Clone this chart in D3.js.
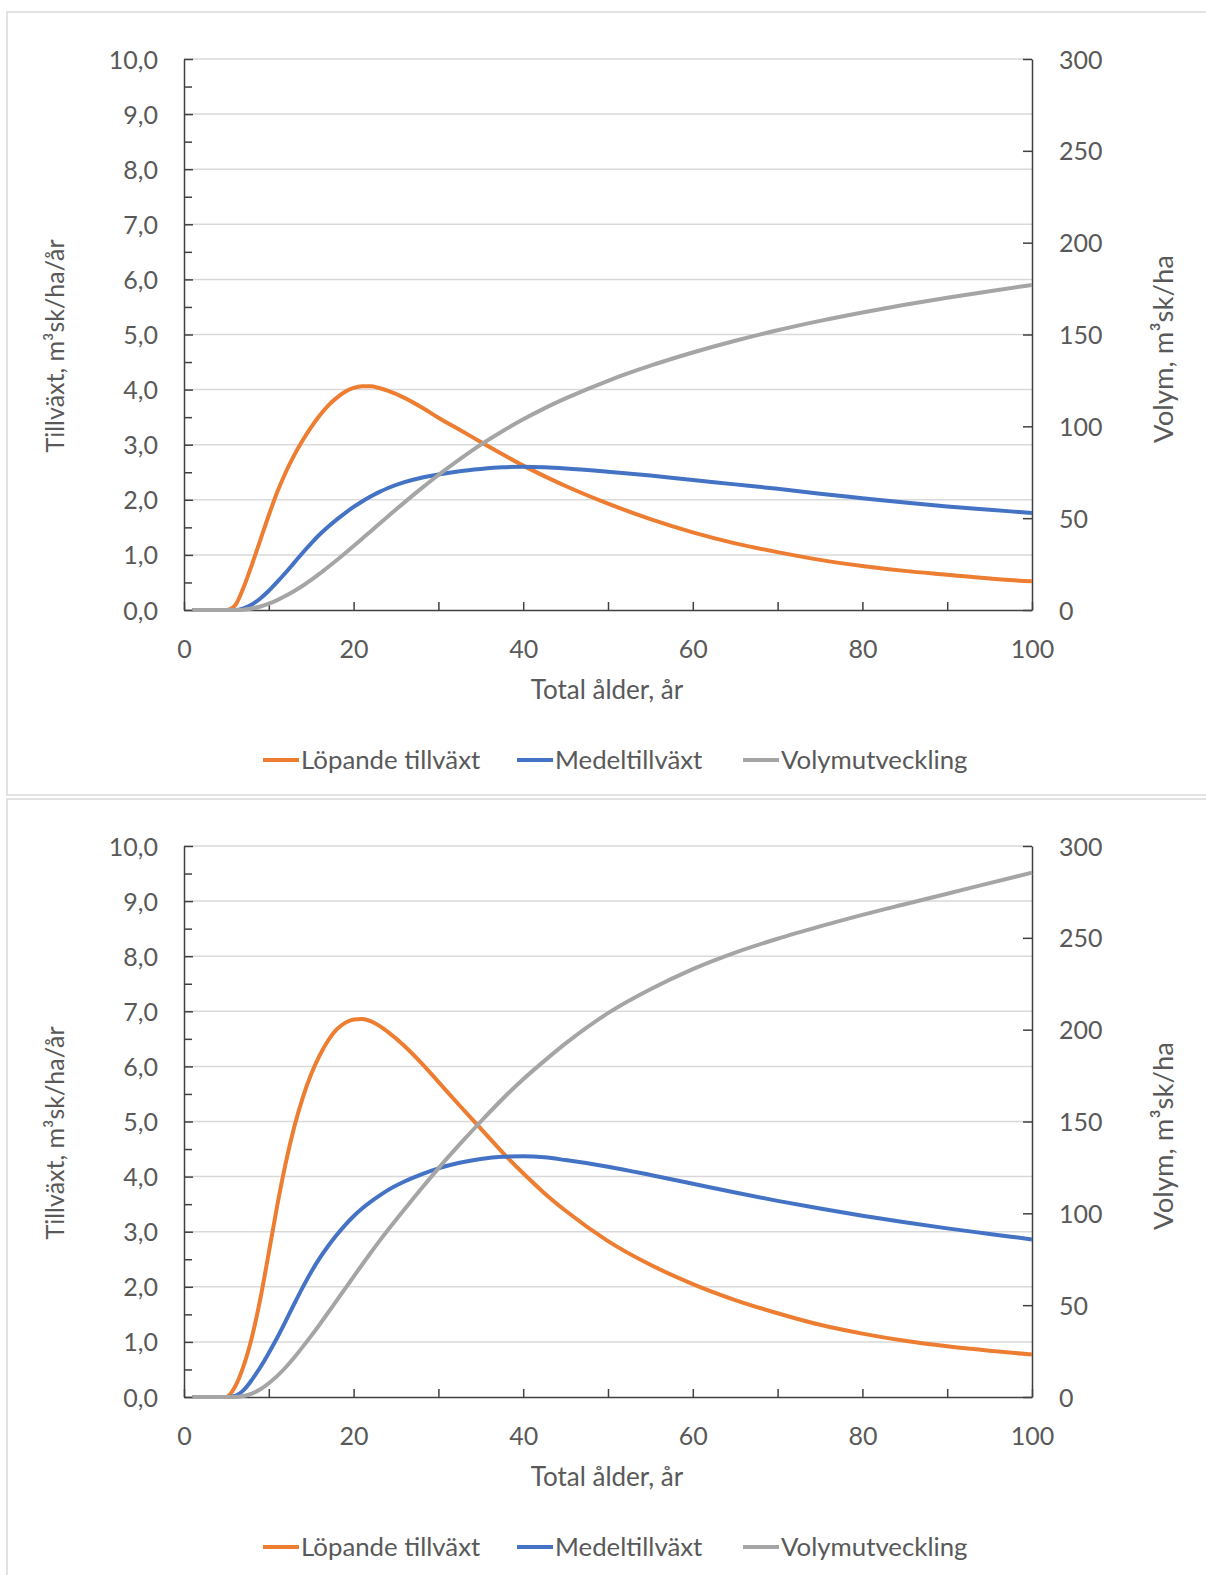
<!DOCTYPE html>
<html>
<head>
<meta charset="utf-8">
<script src="https://cdn.jsdelivr.net/npm/d3@7"></script>
<style>
  body { margin: 0; background: #fff; }
  text { font-family: Lato, "Open Sans", sans-serif; fill: #595959; }
</style>
</head>
<body>
<svg id="chart" width="1206" height="1575"></svg>
<script>
// ages (år) the curves were read at
const ages = [1, 2, 3, 4, 5, 6, 7, 8, 9, 10, 11, 12, 13, 14, 15, 16, 17, 18, 19, 20, 21, 22, 23, 24,
    26, 28, 30, 32.5, 35, 37.5, 40, 42.5, 45, 50, 55, 60, 65, 70, 75, 80, 85, 90, 95, 100];

// top chart
const lopandeTop = [0, 0, 0, 0, 0, 0.08, 0.4, 0.82, 1.27, 1.72, 2.14, 2.5, 2.81, 3.08, 3.32, 3.53, 3.71, 3.85, 3.96, 4.03, 4.06, 4.06, 4.03, 3.98,
    3.85, 3.68, 3.49, 3.27, 3.05, 2.83, 2.62, 2.43, 2.25, 1.93, 1.65, 1.41, 1.21, 1.05, 0.91, 0.8, 0.71, 0.64, 0.57, 0.52];
const medelTop = [0, 0, 0, 0, 0, 0, 0.03, 0.1, 0.21, 0.35, 0.51, 0.68, 0.86, 1.04, 1.21, 1.37, 1.51, 1.64, 1.76, 1.87, 1.97, 2.06, 2.14, 2.21,
    2.32, 2.4, 2.46, 2.52, 2.56, 2.59, 2.6, 2.59, 2.57, 2.51, 2.44, 2.36, 2.28, 2.2, 2.11, 2.03, 1.95, 1.88, 1.82, 1.76];
const volymTop = [0, 0, 0, 0, 0, 0, 0.2, 0.8, 1.9, 3.5, 5.4, 7.7, 10.3, 13.2, 16.4, 19.8, 23.4, 27.1, 30.9, 34.8, 38.8, 42.8, 46.8, 50.8,
    58.6, 66.2, 73.5, 82, 90, 97.2, 103.8, 109.8, 115.2, 124.8, 133, 140.2, 146.6, 152.3, 157.4, 162, 166.2, 170, 173.6, 177];

// bottom chart
const lopandeBottom = [0, 0, 0, 0, 0, 0.18, 0.55, 1.08, 1.78, 2.62, 3.48, 4.25, 4.9, 5.43, 5.86, 6.2, 6.47, 6.67, 6.79, 6.85, 6.86, 6.82, 6.74, 6.63,
    6.37, 6.06, 5.72, 5.29, 4.87, 4.45, 4.06, 3.7, 3.38, 2.83, 2.4, 2.05, 1.76, 1.52, 1.31, 1.15, 1.02, 0.92, 0.84, 0.77];
const medelBottom = [0, 0, 0, 0, 0, 0.02, 0.12, 0.31, 0.54, 0.8, 1.08, 1.38, 1.69, 1.99, 2.27, 2.52, 2.74, 2.94, 3.12, 3.28, 3.42, 3.54, 3.65, 3.75,
    3.91, 4.04, 4.15, 4.25, 4.32, 4.36, 4.37, 4.35, 4.3, 4.18, 4.03, 3.87, 3.71, 3.56, 3.42, 3.29, 3.17, 3.06, 2.96, 2.86];
const volymBottom = [0, 0, 0, 0, 0, 0, 0.5, 1.8, 4.2, 7.5, 11.5, 16.2, 21.5, 27.3, 33.3, 39.5, 46, 52.5, 59, 65.5, 72, 78.4, 84.6, 90.6,
    102.2, 113.5, 124.5, 137.5, 150, 162, 173, 183, 192.5, 209, 222, 233, 242, 249.5, 256.2, 262.5, 268.3, 274, 279.8, 285.5];

const leftTicks = [0, 1, 2, 3, 4, 5, 6, 7, 8, 9, 10];
const rightTicks = [0, 50, 100, 150, 200, 250, 300];
const xTicks = [0, 10, 20, 30, 40, 50, 60, 70, 80, 90, 100];
const seriesNames = ["Löpande tillväxt", "Medeltillväxt", "Volymutveckling"];
const seriesColors = ["#ED7D31", "#4472C4", "#A5A5A5"];

const svg = d3.select('#chart');

function growthChart(offsetY, lopande, medel, volym) {

    let margin = { top: 59, left: 184 },
        width = 848,
        height = 551;

    let g = svg.append('g').attr('transform', `translate(0, ${offsetY})`);

    // panel frame
    g.append('rect')
        .attr('x', 7).attr('y', 12)
        .attr('width', 1220).attr('height', 783)
        .attr('fill', 'none')
        .attr('stroke', '#d9d9d9')
        .attr('stroke-width', 1.5);

    let x = d3.scaleLinear().domain([0, 100]).range([margin.left, margin.left + width]);
    let yLeft = d3.scaleLinear().domain([0, 10]).range([margin.top + height, margin.top]);
    let yRight = d3.scaleLinear().domain([0, 300]).range([margin.top + height, margin.top]);

    // gridlines
    g.append('g').selectAll('line')
        .data(leftTicks.slice(1))
        .enter().append('line')
        .attr('x1', margin.left).attr('x2', margin.left + width)
        .attr('y1', d => yLeft(d)).attr('y2', d => yLeft(d))
        .attr('stroke', '#d9d9d9')
        .attr('stroke-width', 1.5);

    // left axis, ticks inside
    let leftAxis = g.append('g')
        .attr('transform', `translate(${margin.left}, 0)`)
        .call(d3.axisLeft(yLeft)
            .tickValues(leftTicks)
            .tickSizeInner(-9).tickSizeOuter(0).tickPadding(26)
            .tickFormat(d => d3.format('.1f')(d).replace('.', ',')));

    // minor ticks
    g.append('g')
        .attr('transform', `translate(${margin.left}, 0)`)
        .call(d3.axisLeft(yLeft)
            .tickValues(leftTicks.slice(0, -1).map(d => d + 0.5))
            .tickSizeInner(-8).tickSizeOuter(0)
            .tickFormat(''))
        .select('.domain').remove();

    let rightAxis = g.append('g')
        .attr('transform', `translate(${margin.left + width}, 0)`)
        .call(d3.axisRight(yRight)
            .tickValues(rightTicks)
            .tickSizeInner(-9).tickSizeOuter(0).tickPadding(27));

    let bottomAxis = g.append('g')
        .attr('transform', `translate(0, ${margin.top + height})`)
        .call(d3.axisBottom(x)
            .tickValues(xTicks)
            .tickSizeInner(-8).tickSizeOuter(0).tickPadding(30)
            .tickFormat(d => d % 20 === 0 ? d : ''));

    [leftAxis, rightAxis, bottomAxis].forEach(function (a) {
        a.selectAll('text').style('font-size', '25px').style('fill', '#595959');
    });
    g.selectAll('.domain, .tick line')
        .attr('stroke', '#404040')
        .attr('stroke-width', 1.5);
    leftAxis.selectAll('text').attr('dy', '0.36em');
    rightAxis.selectAll('text').attr('dy', '0.36em');

    // curves
    let lineLeft = d3.line()
        .x((d, i) => x(ages[i]))
        .y(d => yLeft(d))
        .curve(d3.curveMonotoneX);
    let lineRight = d3.line()
        .x((d, i) => x(ages[i]))
        .y(d => yRight(d))
        .curve(d3.curveMonotoneX);

    g.append('path').datum(lopande)
        .attr('d', lineLeft)
        .attr('fill', 'none').attr('stroke', seriesColors[0]).attr('stroke-width', 4);
    g.append('path').datum(medel)
        .attr('d', lineLeft)
        .attr('fill', 'none').attr('stroke', seriesColors[1]).attr('stroke-width', 4);
    g.append('path').datum(volym)
        .attr('d', lineRight)
        .attr('fill', 'none').attr('stroke', seriesColors[2]).attr('stroke-width', 4);

    // axis titles
    g.append('text')
        .attr('transform', 'translate(64, 346) rotate(-90)')
        .attr('text-anchor', 'middle')
        .style('font-size', '25px')
        .text('Tillväxt, m³sk/ha/år');

    g.append('text')
        .attr('transform', 'translate(1173, 349) rotate(-90)')
        .attr('text-anchor', 'middle')
        .style('font-size', '27.5px')
        .text('Volym, m³sk/ha');

    g.append('text')
        .attr('x', 607).attr('y', 699)
        .attr('text-anchor', 'middle')
        .style('font-size', '26px')
        .text('Total ålder, år');

    // legend
    let legendX = [263, 517, 743];
    let legend = g.append('g').selectAll('g')
        .data(seriesNames)
        .enter().append('g')
        .attr('transform', (d, i) => `translate(${legendX[i]}, 760)`);

    legend.append('line')
        .attr('x1', 0).attr('x2', 36)
        .attr('stroke', (d, i) => seriesColors[i])
        .attr('stroke-width', 4);

    legend.append('text')
        .attr('x', 38).attr('y', 9)
        .style('font-size', '25.8px')
        .text(d => d);
}

growthChart(0, lopandeTop, medelTop, volymTop);
growthChart(787, lopandeBottom, medelBottom, volymBottom);
</script>
</body>
</html>
